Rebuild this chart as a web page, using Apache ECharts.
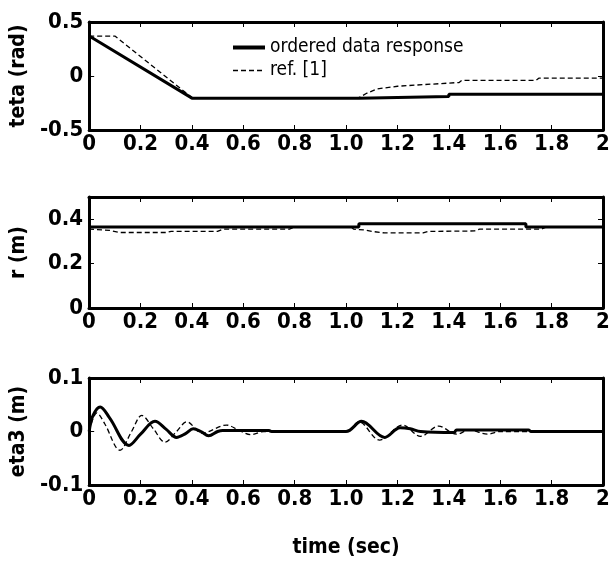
<!DOCTYPE html>
<html>
<head>
<meta charset="utf-8">
<script src="https://cdn.jsdelivr.net/npm/echarts@6/dist/echarts.min.js"></script>
<style>
  html, body { margin: 0; padding: 0; background: #fff; }
  #Chart { width: 613px; height: 565px; }
</style>
</head>
<body>
<div id="Chart"></div>
<script>
var Chart = echarts.init(document.getElementById('Chart'));

// teta (rad)
var tetaT    = [0, 0.4, 1.05, 1.05, 1.4, 1.4, 2];
var tetaOrd  = [0.37, -0.205, -0.205, -0.19, -0.19, -0.17, -0.17];
var tetaRefT = [0, 0.1, 0.4, 1.05, 1.08, 1.12, 1.2, 1.3, 1.44, 1.45, 1.74, 1.75, 2];
var tetaRef  = [0.37, 0.37, -0.2, -0.2, -0.16, -0.12, -0.095, -0.08, -0.06, -0.04, -0.04, -0.02, -0.02];

// r (m)
var rT    = [0, 1.05, 1.05, 1.7, 1.7, 2];
var rOrd  = [0.365, 0.365, 0.38, 0.38, 0.365, 0.365];
var rRefT = [0, 0.08, 0.12, 0.3, 0.32, 0.5, 0.52, 0.78, 0.8, 1.02, 1.03, 1.07, 1.1, 1.15, 1.3, 1.32, 1.5, 1.52, 1.76, 1.78, 2];
var rRef  = [0.355, 0.35, 0.34, 0.34, 0.345, 0.345, 0.355, 0.355, 0.365, 0.365, 0.355, 0.352, 0.345, 0.338, 0.338, 0.345, 0.347, 0.355, 0.355, 0.365, 0.365];

// eta3 (m)
var etaT    = [0, 0.015, 0.043, 0.08, 0.155, 0.2, 0.256, 0.3, 0.34, 0.375, 0.405, 0.435, 0.465, 0.5, 0.52, 0.7, 0.71, 1.0, 1.06, 1.15, 1.21, 1.25, 1.29, 1.42, 1.43, 1.71, 1.72, 2];
var etaOrd  = [0, 0.03, 0.046, 0.025, -0.026, -0.005, 0.019, 0.004, -0.011, -0.004, 0.005, 0, -0.008, 0, 0.002, 0.002, 0, 0, 0.019, -0.011, 0.007, 0.005, 0, -0.002, 0.003, 0.003, 0, 0];
var etaRefT = [0, 0.03, 0.06, 0.12, 0.165, 0.205, 0.25, 0.295, 0.34, 0.38, 0.44, 0.535, 0.58, 0.63, 0.68, 1.0, 1.05, 1.13, 1.22, 1.29, 1.36, 1.43, 1.48, 1.55, 1.6, 2];
var etaRef  = [0, 0.035, 0.015, -0.035, 0, 0.03, 0.005, -0.02, 0, 0.018, -0.003, 0.012, 0.003, -0.006, 0, 0, 0.018, -0.016, 0.012, -0.009, 0.01, -0.005, 0.003, -0.005, 0, 0];

var seriesNames = ['ordered data response', 'ref. [1]'];
var yNames = ['teta (rad)', 'r (m)', 'eta3 (m)'];
var yRanges = [[-0.5, 0.5, 0.5], [0, 0.5, 0.2], [-0.1, 0.1, 0.1]];

var FONT = 'DejaVu Sans Condensed, sans-serif';

function pairs(xs, ys) {
    return xs.map(function (x, i) { return [x, ys[i]]; });
}

var grids = [
    {left: 87, right: 10, top: 22, height: 108},
    {left: 87, right: 10, top: 197, height: 111},
    {left: 87, right: 10, top: 378, height: 107}
];

var xAxes = [], yAxes = [];
grids.forEach(function (g, i) {
    var lineStyle = {color: '#000', width: 3};
    xAxes.push({
        type: 'value', gridIndex: i, min: 0, max: 2, interval: 0.2,
        axisLine: {show: true, onZero: false, lineStyle: lineStyle},
        axisTick: {inside: true, length: 5, lineStyle: {color: '#000', width: 1}},
        splitLine: {show: false},
        axisLabel: {
            color: '#000', fontFamily: FONT, fontWeight: 'bold', fontSize: 22, margin: 3,
            formatter: function (v) {
                if (Math.abs(v) < 1e-9) return '0';
                if (Math.abs(v - 2) < 1e-9) return '2';
                return v.toFixed(1);
            }
        },
        name: i === 2 ? 'time (sec)' : '',
        nameLocation: 'middle', nameGap: 52,
        nameTextStyle: {color: '#000', fontFamily: FONT, fontWeight: 'bold', fontSize: 21}
    });
    xAxes.push({
        type: 'value', gridIndex: i, position: 'top', min: 0, max: 2, interval: 0.2,
        axisLine: {show: true, onZero: false, lineStyle: lineStyle},
        axisTick: {inside: true, length: 5, lineStyle: {color: '#000', width: 1}},
        splitLine: {show: false}, axisLabel: {show: false}
    });
    var r = yRanges[i];
    yAxes.push({
        type: 'value', gridIndex: i, min: r[0], max: r[1], interval: r[2],
        axisLine: {show: true, onZero: false, lineStyle: lineStyle},
        axisTick: {inside: true, length: 5, lineStyle: {color: '#000', width: 1}},
        splitLine: {show: false},
        axisLabel: {
            color: '#000', fontFamily: FONT, fontWeight: 'bold', fontSize: 22, margin: 6,
            showMaxLabel: i !== 1,
            formatter: function (v) { return String(Math.round(v * 10) / 10); }
        },
        name: yNames[i], nameLocation: 'middle', nameGap: 60, nameRotate: 90,
        nameTextStyle: {color: '#000', fontFamily: FONT, fontWeight: 'bold', fontSize: 21}
    });
    yAxes.push({
        type: 'value', gridIndex: i, position: 'right', min: r[0], max: r[1], interval: r[2],
        axisLine: {show: true, onZero: false, lineStyle: lineStyle},
        axisTick: {inside: true, length: 5, lineStyle: {color: '#000', width: 1}},
        splitLine: {show: false}, axisLabel: {show: false}
    });
});

function solid(name, idx, data, smooth) {
    return {
        name: name, type: 'line', xAxisIndex: idx * 2, yAxisIndex: idx * 2,
        data: data, showSymbol: false, symbol: 'none', smooth: smooth || false,
        itemStyle: {color: '#000'},
        lineStyle: {color: '#000', width: 3}, z: 3
    };
}
function dashed(name, idx, data, smooth) {
    return {
        name: name, type: 'line', xAxisIndex: idx * 2, yAxisIndex: idx * 2,
        data: data, showSymbol: false, symbol: 'none', smooth: smooth || false,
        itemStyle: {color: '#000'},
        lineStyle: {color: '#000', width: 1.3, type: [5, 3]}, z: 2
    };
}

var option = {
    animation: false,
    backgroundColor: '#fff',
    color: ['#000'],
    legend: {
        left: 226, top: 33, orient: 'vertical',
        itemWidth: 32, itemHeight: 14, itemGap: 4,
        itemStyle: {opacity: 0},
        data: [
            {name: seriesNames[0], lineStyle: {width: 4, color: '#000'}},
            {name: seriesNames[1], lineStyle: {width: 1.3, color: '#000', type: [5, 3]}}
        ],
        textStyle: {color: '#000', fontFamily: FONT, fontSize: 19}
    },
    grid: grids,
    xAxis: xAxes,
    yAxis: yAxes,
    series: [
        solid(seriesNames[0], 0, pairs(tetaT, tetaOrd)),
        dashed(seriesNames[1], 0, pairs(tetaRefT, tetaRef)),
        solid(seriesNames[0], 1, pairs(rT, rOrd)),
        dashed(seriesNames[1], 1, pairs(rRefT, rRef)),
        solid(seriesNames[0], 2, pairs(etaT, etaOrd), 0.35),
        dashed(seriesNames[1], 2, pairs(etaRefT, etaRef), 0.35)
    ]
};

Chart.setOption(option);

window.addEventListener("resize", function () {
    Chart.resize();
});
</script>
</body>
</html>
